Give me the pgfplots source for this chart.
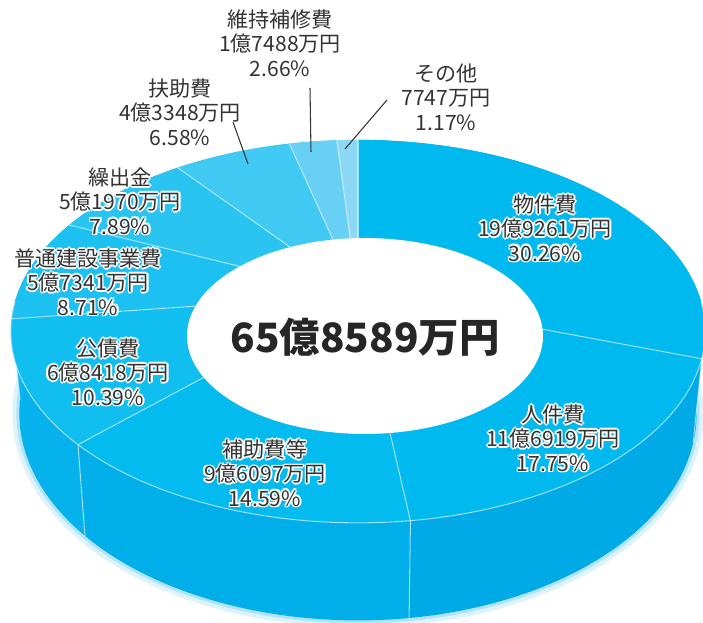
\documentclass[border=0pt]{standalone}
\usepackage{pgfplots}
\usepackage{pgfplotstable}
\pgfplotsset{compat=1.18}
\usepackage{fontspec}
\newfontfamily\jp{Noto Sans CJK JP}
\definecolor{txt}{HTML}{333333}
\definecolor{topA}{HTML}{00B9EF}
\definecolor{topB}{HTML}{00B9EF}
\definecolor{topC}{HTML}{03BBEF}
\definecolor{topD}{HTML}{10BEF0}
\definecolor{topE}{HTML}{1CC1F1}
\definecolor{topF}{HTML}{2AC4F1}
\definecolor{topG}{HTML}{40C9F2}
\definecolor{topH}{HTML}{68D0F5}
\definecolor{topI}{HTML}{8CD9F7}
\definecolor{sideA}{HTML}{00A7E4}
\definecolor{sideB}{HTML}{00AAE7}
\definecolor{sideC}{HTML}{00AEEA}
\definecolor{sideD}{HTML}{05B2EB}
\definecolor{sideE}{HTML}{10B6EC}
\definecolor{sideF}{HTML}{1AB8EC}
\definecolor{sideG}{HTML}{2ABCEE}
\definecolor{sideH}{HTML}{50C6F0}
\definecolor{sideI}{HTML}{70CFF2}
\definecolor{glow}{HTML}{8FD8F6}
% projection of the (tilted) pie: angle clockwise from top
\pgfmathdeclarefunction{tx}{1}{\pgfmathparse{358+341*sin(#1)/(1+0.19*cos(#1))}}
\pgfmathdeclarefunction{ty}{1}{\pgfmathparse{328+184.6*cos(#1)/(1+0.19*cos(#1))}}
\pgfmathdeclarefunction{bx}{1}{\pgfmathparse{358+332.5*sin(#1)/(1+0.19*cos(#1))}}
\pgfmathdeclarefunction{by}{1}{\pgfmathparse{328+(184.6*cos(#1)-79)/(1+0.19*cos(#1))}}
% amounts in 億円
\pgfplotstableread{
name value
Bukkenhi 19.9261
Jinkenhi 11.6919
Hojohi 9.6097
Kosaihi 6.8418
Futsukensetsu 5.7341
Kuridashi 5.1970
Fujohi 4.3348
Ijihoshu 1.7488
Sonota 0.7747
}\budget
\tikzset{
  lbl/.style={font=\jp\fontsize{12}{13.9}\selectfont, align=center, inner sep=0pt, text=txt},
  bline/.style={white, opacity=0.55, line width=0.6pt},
}
\newcommand{\hlab}[3]{%
  \node[lbl,text=white,xshift=1pt] at (axis cs:#1,#2) {#3};
  \node[lbl,text=white,xshift=-1pt] at (axis cs:#1,#2) {#3};
  \node[lbl,text=white,yshift=1pt] at (axis cs:#1,#2) {#3};
  \node[lbl,text=white,yshift=-1pt] at (axis cs:#1,#2) {#3};
  \node[lbl,text=white,xshift=0.7pt,yshift=0.7pt] at (axis cs:#1,#2) {#3};
  \node[lbl,text=white,xshift=-0.7pt,yshift=0.7pt] at (axis cs:#1,#2) {#3};
  \node[lbl,text=white,xshift=0.7pt,yshift=-0.7pt] at (axis cs:#1,#2) {#3};
  \node[lbl,text=white,xshift=-0.7pt,yshift=-0.7pt] at (axis cs:#1,#2) {#3};
  \node[lbl] at (axis cs:#1,#2) {#3};
}
\begin{document}
\begin{tikzpicture}
% cumulative angles from the data
\gdef\tot{0}%
\foreach \i in {0,...,8}{%
  \pgfplotstablegetelem{\i}{value}\of\budget
  \pgfmathsetmacro\nt{\tot+\pgfplotsretval}%
  \xdef\tot{\nt}%
}%
\gdef\cum{0}%
\foreach \i/\c in {0/A,1/B,2/C,3/D,4/E,5/F,6/G,7/H,8/I}{%
  \pgfplotstablegetelem{\i}{value}\of\budget
  \pgfmathsetmacro\nb{\cum+\pgfplotsretval/\tot*360}%
  \expandafter\xdef\csname sa\c\endcsname{\cum}%
  \expandafter\xdef\csname sb\c\endcsname{\nb}%
  \xdef\cum{\nb}%
}%
\begin{axis}[hide axis, scale only axis, width=14.06cm, height=12.46cm,
  xmin=0, xmax=703, ymin=0, ymax=623, clip=false]
\coordinate (ll) at (axis cs:0,0);
\coordinate (ur) at (axis cs:703,623);
% glow along the lower edge
\draw[glow, opacity=0.3, line width=8pt] plot[domain=80:268, samples=90, variable=\t] ({bx(\t)},{by(\t)});
\draw[glow, opacity=0.55, line width=3.5pt] plot[domain=80:268, samples=90, variable=\t] ({bx(\t)},{by(\t)});
% side faces
\pgfplotsinvokeforeach{A,B,C,D,E,F,G,H,I}{
  \fill[side#1] plot[domain=\csname sa#1\endcsname:\csname sb#1\endcsname, samples=60, variable=\t] ({tx(\t)},{ty(\t)})
     -- plot[domain=\csname sb#1\endcsname:\csname sa#1\endcsname, samples=60, variable=\t] ({bx(\t)},{by(\t)}) -- cycle;
}
\pgfplotsinvokeforeach{A,B,C,D,E,F,G,H,I}{
  \draw[bline] ({tx(\csname sa#1\endcsname)},{ty(\csname sa#1\endcsname)}) -- ({bx(\csname sa#1\endcsname)},{by(\csname sa#1\endcsname)});
}
% top faces
\pgfplotsinvokeforeach{A,B,C,D,E,F,G,H,I}{
  \fill[top#1] (axis cs:358,328) -- plot[domain=\csname sa#1\endcsname:\csname sb#1\endcsname, samples=60, variable=\t] ({tx(\t)},{ty(\t)}) -- cycle;
}
\pgfplotsinvokeforeach{A,B,C,D,E,F,G,H,I}{
  \draw[bline] (axis cs:358,328) -- ({tx(\csname sa#1\endcsname)},{ty(\csname sa#1\endcsname)});
}
\draw[bline] plot[domain=92:268, samples=90, variable=\t] ({tx(\t)},{ty(\t)});
% centre hole
\fill[white] plot[domain=0:360, samples=120, variable=\t] ({365+178*cos(\t)},{287+98*sin(\t)}) -- cycle;
\node[font=\jp\bfseries\fontsize{23}{26}\selectfont, text=black!85, inner sep=0pt] at (axis cs:365,286) {65億8589万円};
% leader lines
\draw[txt, line width=0.6pt] (axis cs:233,501) -- (axis cs:248,459);
\draw[txt, line width=0.6pt] (axis cs:310,535) -- (axis cs:311,471);
\draw[txt, line width=0.6pt] (axis cs:387,523) -- (axis cs:345,474);
% labels
\hlab{545}{395}{物件費\\19億9261万円\\30.26\%}
\hlab{553}{185}{人件費\\11億6919万円\\17.75\%}
\hlab{265}{150}{補助費等\\9億6097万円\\14.59\%}
\hlab{108}{251}{公債費\\6億8418万円\\10.39\%}
\hlab{88}{341}{普通建設事業費\\5億7341万円\\8.71\%}
\hlab{120}{422}{繰出金\\5億1970万円\\7.89\%}
\node[lbl] at (axis cs:180,511) {扶助費\\4億3348万円\\6.58\%};
\node[lbl] at (axis cs:280,580) {維持補修費\\1億7488万円\\2.66\%};
\node[lbl] at (axis cs:446,526) {その他\\7747万円\\1.17\%};
\end{axis}
\pgfresetboundingbox
\path[use as bounding box] (ll) rectangle (ur);
\end{tikzpicture}
\end{document}
